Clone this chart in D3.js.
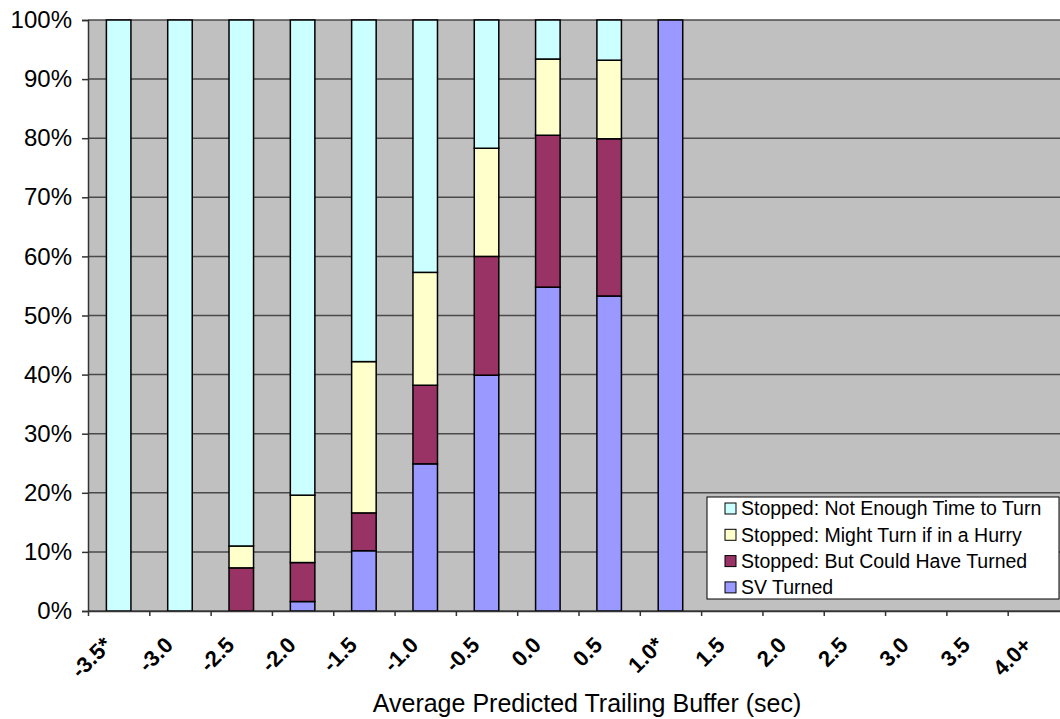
<!DOCTYPE html>
<html>
<head>
<meta charset="utf-8">
<script src="https://cdn.jsdelivr.net/npm/d3@7"></script>
<style>
html,body{margin:0;padding:0;background:#fff;overflow:hidden;}
text{font-family:"Liberation Sans",Arial,sans-serif;}
</style>
</head>
<body>
<svg id="chart" width="1060" height="719"></svg>
<script>
const categories = ["-3.5*","-3.0","-2.5","-2.0","-1.5","-1.0","-0.5","0.0","0.5","1.0*","1.5","2.0","2.5","3.0","3.5","4.0+"];
const svTurned      = [0, 0, 0,    1.6, 10.2, 24.9, 39.9, 54.8, 53.3, 100, 0,0,0,0,0,0];
const couldHave     = [0, 0, 7.3,  6.6,  6.4, 13.3, 20.1, 25.7, 26.6, 0,   0,0,0,0,0,0];
const mightTurn     = [0, 0, 3.7, 11.4, 25.6, 19.1, 18.3, 12.9, 13.3, 0,   0,0,0,0,0,0];
const notEnough     = [100,100,89.0,80.4,57.8,42.7,21.7, 6.6,  6.8, 0,   0,0,0,0,0,0];
const seriesNames = ["SV Turned","Stopped: But Could Have Turned","Stopped: Might Turn if in a Hurry","Stopped: Not Enough Time to Turn"];
const seriesColors = ["#9999FF","#993366","#FFFFCC","#CCFFFF"];
const yTicks = [0,10,20,30,40,50,60,70,80,90,100];
const xTitle = "Average Predicted Trailing Buffer (sec)";

const svg = d3.select("#chart");
const pLeft = 88, pRight = 1069, pTop = 20, pBottom = 611;

const x = d3.scaleBand().domain(categories).range([pLeft, pRight]).padding(0);
const xb = d3.scaleLinear().domain([0, categories.length]).range([pLeft, pRight]);
const y = d3.scaleLinear().domain([0, 100]).range([pBottom, pTop]);

// plot background
svg.append("rect").attr("x", pLeft).attr("y", pTop).attr("width", pRight-pLeft).attr("height", pBottom-pTop)
  .attr("fill", "#C0C0C0");

// gridlines
svg.append("g").selectAll("line").data(yTicks).join("line")
  .attr("x1", pLeft).attr("x2", pRight)
  .attr("y1", d => y(d)).attr("y2", d => y(d))
  .attr("stroke", "#4a4a4a").attr("stroke-width", 1.5);

// stacked data
const rows = categories.map((c, i) => ({cat: c, s0: svTurned[i], s1: couldHave[i], s2: mightTurn[i], s3: notEnough[i]}));
const stack = d3.stack().keys(["s0","s1","s2","s3"])(rows);
const bw = x.bandwidth() * 0.4;

svg.append("g").selectAll("g").data(stack).join("g")
  .attr("fill", (d, i) => seriesColors[i])
  .selectAll("rect").data(d => d.filter(p => p[1] - p[0] > 0)).join("rect")
  .attr("x", d => x(d.data.cat) + (x.bandwidth() - bw) / 2)
  .attr("width", bw)
  .attr("y", d => y(d[1]))
  .attr("height", d => y(d[0]) - y(d[1]))
  .attr("stroke", "#000").attr("stroke-width", 1.5);

// y axis
const yAxis = svg.append("g").attr("transform", `translate(${pLeft},0)`)
  .call(d3.axisLeft(y).tickValues(yTicks).tickFormat(d => d + "%").tickSize(6).tickPadding(10));
yAxis.select(".domain").attr("stroke", "#333").attr("stroke-width", 1.5);
yAxis.selectAll(".tick line").attr("stroke", "#333").attr("stroke-width", 1.5);
yAxis.selectAll("text").attr("font-size", 24).attr("fill", "#000")
  .attr("font-family", "'Liberation Sans', Arial, sans-serif");

// x axis (boundary ticks)
const xAxis = svg.append("g").attr("transform", `translate(0,${pBottom})`)
  .call(d3.axisBottom(xb).tickValues(d3.range(0, categories.length + 1)).tickFormat("").tickSize(5).tickSizeOuter(0));
xAxis.select(".domain").attr("stroke", "#333").attr("stroke-width", 1.5);
xAxis.selectAll(".tick line").attr("stroke", "#333").attr("stroke-width", 1.5);

// x labels (rotated)
svg.append("g").selectAll("text").data(categories).join("text")
  .attr("transform", d => `translate(${x(d) + x.bandwidth()/2 - 11},${pBottom + 30}) rotate(-45)`)
  .attr("text-anchor", "end")
  .attr("dy", "0.35em")
  .attr("font-size", 22).attr("font-weight", "bold").attr("fill", "#000")
  .text(d => d);

// x title
svg.append("text").attr("x", 587).attr("y", 712).attr("text-anchor", "middle")
  .attr("font-size", 25).attr("fill", "#000").text(xTitle);

// legend
const lg = svg.append("g");
lg.append("rect").attr("x", 707).attr("y", 497).attr("width", 352).attr("height", 102)
  .attr("fill", "#fff").attr("stroke", "#000").attr("stroke-width", 1);
const legendOrder = [3, 2, 1, 0];
legendOrder.forEach((si, k) => {
  const yy = 503 + k * 26.3;
  lg.append("rect").attr("x", 725).attr("y", yy).attr("width", 11).attr("height", 11)
    .attr("fill", seriesColors[si]).attr("stroke", "#000").attr("stroke-width", 1);
  lg.append("text").attr("x", 741).attr("y", yy + 5.5).attr("dy", "0.35em")
    .attr("font-size", 19.5).attr("fill", "#000").text(seriesNames[si]);
});
</script>
</body>
</html>
